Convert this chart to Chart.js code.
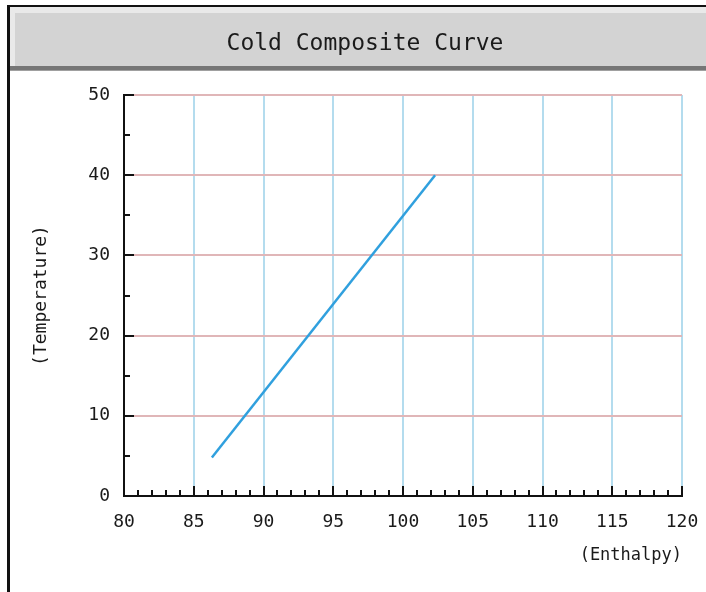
<!DOCTYPE html>
<html>
<head>
<meta charset="utf-8">
<script src="https://cdn.jsdelivr.net/npm/chart.js@4"></script>
<style>
  body { margin: 0; background: #fff; }
</style>
</head>
<body>
<canvas id="myChart" width="706" height="592"></canvas>
<script>
const chartTitle = "Cold Composite Curve";
const xLabel = "(Enthalpy)";
const yLabel = "(Temperature)";
const enthalpy = [86.3, 102.3];
const temperature = [4.8, 40];
const xMin = 80, xMax = 120, xStep = 5;
const yMin = 0, yMax = 50, yStep = 10;

const monoFont = "'DejaVu Sans Mono', monospace";

// header band with title, left border, inside tick marks
const framePlugin = {
  id: "frame",
  beforeDraw(chart) {
    const ctx = chart.ctx;
    const w = chart.width;
    ctx.save();
    ctx.fillStyle = "#fff";
    ctx.fillRect(0, 0, w, chart.height);
    ctx.fillStyle = "#e9e9e9";
    ctx.fillRect(10, 7, w - 10, 59);
    ctx.fillStyle = "#d3d3d3";
    ctx.fillRect(15, 13, w - 15, 53);
    ctx.fillStyle = "#767676";
    ctx.fillRect(10, 66, w - 10, 4);
    ctx.fillStyle = "#a0a0a0";
    ctx.fillRect(10, 70, w - 10, 1);
    ctx.fillStyle = "#111";
    ctx.fillRect(7, 5, 3, chart.height - 5);
    ctx.fillRect(7, 5, w - 7, 2);

    ctx.fillStyle = "#1a1a1a";
    ctx.font = "23px " + monoFont;
    ctx.textAlign = "center";
    ctx.textBaseline = "middle";
    ctx.fillText(chartTitle, 365, 44);
    ctx.restore();
  },
  afterDraw(chart) {
    const ctx = chart.ctx;
    const xs = chart.scales.x, ys = chart.scales.y;
    const area = chart.chartArea;
    ctx.save();
    ctx.strokeStyle = "#111";
    ctx.lineWidth = 2;
    ctx.beginPath();
    for (let v = xMin + 1; v <= xMax; v++) {
      const px = Math.round(xs.getPixelForValue(v));
      const len = v % 5 === 0 ? 10 : 6;
      ctx.moveTo(px, area.bottom);
      ctx.lineTo(px, area.bottom - len);
    }
    for (let v = yMin + 5; v <= yMax; v += 5) {
      const py = Math.round(ys.getPixelForValue(v));
      const len = v % 10 === 0 ? 10 : 6;
      ctx.moveTo(area.left, py);
      ctx.lineTo(area.left + len, py);
    }
    ctx.stroke();
    ctx.restore();
  }
};

new Chart("myChart", {
  type: "line",
  data: {
    datasets: [{
      data: enthalpy.map((x, i) => ({ x: x, y: temperature[i] })),
      borderColor: "#30a0de",
      borderWidth: 2.5,
      pointRadius: 0,
      fill: false
    }]
  },
  options: {
    responsive: false,
    animation: false,
    layout: { padding: { left: 0, right: 24, top: 95, bottom: 0 } },
    plugins: {
      legend: { display: false },
      tooltip: { enabled: false },
      title: { display: false }
    },
    scales: {
      x: {
        type: "linear",
        min: xMin,
        max: xMax,
        afterFit(scale) {
          scale.height = 96;
          scale.paddingLeft = 0;
          scale.paddingRight = 0;
        },
        ticks: {
          stepSize: xStep,
          color: "#1a1a1a",
          padding: 16,
          font: { family: monoFont, size: 18 }
        },
        grid: {
          drawTicks: false,
          lineWidth: 2,
          color: (c) => c.tick && c.tick.value === xMin ? "rgba(0,0,0,0)" : "#b4dcee"
        },
        border: { color: "#111", width: 2 },
        title: {
          display: true,
          text: xLabel,
          align: "end",
          color: "#1a1a1a",
          font: { family: monoFont, size: 17 },
          padding: { top: 0, bottom: 26 }
        }
      },
      y: {
        type: "linear",
        min: yMin,
        max: yMax,
        afterFit(scale) {
          scale.width = 124;
          scale.paddingTop = 0;
          scale.paddingBottom = 0;
        },
        ticks: {
          stepSize: yStep,
          color: "#1a1a1a",
          padding: 14,
          font: { family: monoFont, size: 18 }
        },
        grid: {
          drawTicks: false,
          lineWidth: 2,
          color: (c) => c.tick && c.tick.value === yMin ? "rgba(0,0,0,0)" : "#e0b6b8"
        },
        border: { color: "#111", width: 2 },
        title: {
          display: true,
          text: yLabel,
          color: "#1a1a1a",
          font: { family: monoFont, size: 18 },
          padding: { top: 31, bottom: 0 }
        }
      }
    }
  },
  plugins: [framePlugin]
});
</script>
</body>
</html>
